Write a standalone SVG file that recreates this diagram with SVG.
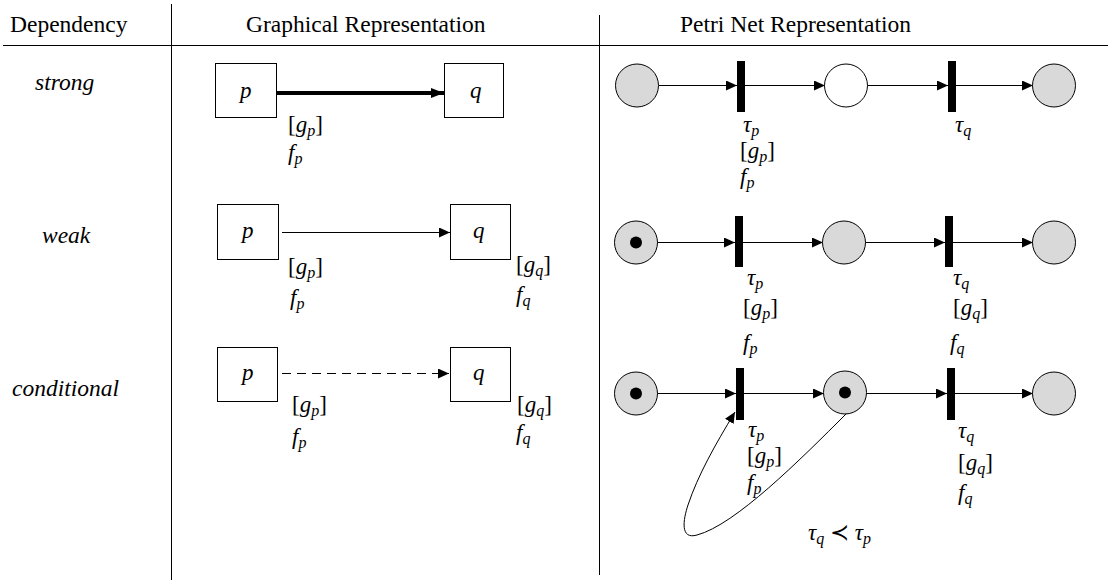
<svg xmlns="http://www.w3.org/2000/svg" width="1113" height="585" viewBox="0 0 1113 585" font-family="Liberation Serif, DejaVu Serif, serif">
<style>
text{font-family:'Liberation Serif','DejaVu Serif',serif;font-size:23px;fill:#000}
.hd{font-size:23.5px}
.it{font-style:italic}
.sub{font-size:16px;font-style:italic}
.box{fill:#fff;stroke:#000;stroke-width:1}
.pl{fill:#d9d9d9;stroke:#000;stroke-width:1}
.pw{fill:#fff;stroke:#000;stroke-width:1}
.tr{fill:#000}
.tok{fill:#000}
.arc{fill:none;stroke:#000;stroke-width:1;marker-end:url(#ah)}
.grid{stroke:#000;stroke-width:1}
</style>
<defs>
<marker id="ah" markerUnits="userSpaceOnUse" markerWidth="12" markerHeight="10" refX="11" refY="5" orient="auto"><path d="M0,0 L11,5 L0,10 Z" fill="#000"/></marker>
<marker id="ahb" markerUnits="userSpaceOnUse" markerWidth="14" markerHeight="12" refX="13" refY="6" orient="auto"><path d="M0,1 L13,6 L0,11 Z" fill="#000"/></marker>
</defs>
<g id="table">
<line class="grid" x1="3" y1="45.5" x2="1108" y2="45.5"/>
<line class="grid" x1="171.5" y1="4" x2="171.5" y2="580"/>
<line class="grid" x1="599.5" y1="15" x2="599.5" y2="575"/>
<text class="hd" x="10" y="32">Dependency</text>
<text class="hd" x="246" y="32">Graphical Representation</text>
<text class="hd" x="680" y="32">Petri Net Representation</text>
<text class="it hd" x="35" y="90">strong</text>
<text class="it hd" x="42" y="243">weak</text>
<text class="it hd" x="12" y="396">conditional</text>
</g>
<g id="connectors">
<line x1="276" y1="93" x2="444" y2="93" stroke="#000" stroke-width="4" marker-end="url(#ahb)"/>
<line class="arc" x1="282" y1="232.5" x2="450" y2="232.5"/>
<line class="arc" x1="282" y1="373.5" x2="449" y2="373.5" stroke-dasharray="9,6"/>
<line class="arc" x1="659" y1="85.5" x2="737" y2="85.5"/>
<line class="arc" x1="745" y1="85.5" x2="825" y2="85.5"/>
<line class="arc" x1="867" y1="85.5" x2="948" y2="85.5"/>
<line class="arc" x1="956" y1="85.5" x2="1033" y2="85.5"/>
<line class="arc" x1="657" y1="242.5" x2="735" y2="242.5"/>
<line class="arc" x1="743" y1="242.5" x2="823" y2="242.5"/>
<line class="arc" x1="865" y1="242.5" x2="945" y2="242.5"/>
<line class="arc" x1="953" y1="242.5" x2="1033" y2="242.5"/>
<line class="arc" x1="657" y1="393.5" x2="736" y2="393.5"/>
<line class="arc" x1="744" y1="393.5" x2="824" y2="393.5"/>
<line class="arc" x1="866" y1="393.5" x2="947" y2="393.5"/>
<line class="arc" x1="954" y1="393.5" x2="1033" y2="393.5"/>
<path class="arc" d="M847,413 C800,460 735,525 697,535 C680,540 683,520 688,505 C698,475 715,445 735,412"/>
</g>
<g id="strong-p"><rect class="box" x="215.5" y="63.5" width="61" height="54"/><text class="it" x="240" y="98">p</text></g>
<g id="strong-q"><rect class="box" x="444.5" y="63.5" width="59" height="54"/><text class="it" x="470" y="98">q</text></g>
<g id="strong-labels">
<text x="288" y="132">[<tspan class="it">g</tspan><tspan class="sub" dy="4">p</tspan><tspan dy="-4">]</tspan></text>
<text x="288" y="160"><tspan class="it">f</tspan><tspan class="sub" dy="4">p</tspan></text>
</g>
<g id="weak-p"><rect class="box" x="217.5" y="204.5" width="61" height="55"/><text class="it" x="242" y="238">p</text></g>
<g id="weak-q"><rect class="box" x="450.5" y="204.5" width="60" height="55"/><text class="it" x="473" y="238">q</text></g>
<g id="weak-labels">
<text x="288" y="274">[<tspan class="it">g</tspan><tspan class="sub" dy="4">p</tspan><tspan dy="-4">]</tspan></text>
<text x="290" y="305"><tspan class="it">f</tspan><tspan class="sub" dy="4">p</tspan></text>
<text x="516" y="272">[<tspan class="it">g</tspan><tspan class="sub" dy="4">q</tspan><tspan dy="-4">]</tspan></text>
<text x="516" y="302"><tspan class="it">f</tspan><tspan class="sub" dy="4">q</tspan></text>
</g>
<g id="cond-p"><rect class="box" x="217.5" y="347.5" width="60" height="54"/><text class="it" x="242" y="380">p</text></g>
<g id="cond-q"><rect class="box" x="450.5" y="347.5" width="60" height="54"/><text class="it" x="473" y="380">q</text></g>
<g id="cond-labels">
<text x="292" y="412">[<tspan class="it">g</tspan><tspan class="sub" dy="4">p</tspan><tspan dy="-4">]</tspan></text>
<text x="292" y="444"><tspan class="it">f</tspan><tspan class="sub" dy="4">p</tspan></text>
<text x="517" y="412">[<tspan class="it">g</tspan><tspan class="sub" dy="4">q</tspan><tspan dy="-4">]</tspan></text>
<text x="516" y="440"><tspan class="it">f</tspan><tspan class="sub" dy="4">q</tspan></text>
</g>
<g id="pn-strong">
<circle class="pl" cx="637" cy="85.5" r="21.5"/>
<rect class="tr" x="737" y="61" width="8" height="51"/>
<circle class="pw" cx="846" cy="85.5" r="21.5"/>
<rect class="tr" x="948" y="61" width="8" height="51"/>
<circle class="pl" cx="1054" cy="85.5" r="21.5"/>
<text x="743" y="132"><tspan class="it">τ</tspan><tspan class="sub" dy="4">p</tspan></text>
<text x="740" y="158">[<tspan class="it">g</tspan><tspan class="sub" dy="4">p</tspan><tspan dy="-4">]</tspan></text>
<text x="740" y="184"><tspan class="it">f</tspan><tspan class="sub" dy="4">p</tspan></text>
<text x="955" y="132"><tspan class="it">τ</tspan><tspan class="sub" dy="4">q</tspan></text>
</g>
<g id="pn-weak">
<circle class="pl" cx="636" cy="242.5" r="21.5"/>
<circle class="tok" cx="636" cy="242.5" r="6"/>
<rect class="tr" x="735" y="216" width="8" height="51"/>
<circle class="pl" cx="844" cy="242.5" r="21.5"/>
<rect class="tr" x="945" y="216" width="8" height="51"/>
<circle class="pl" cx="1054" cy="242.5" r="21.5"/>
<text x="747" y="285"><tspan class="it">τ</tspan><tspan class="sub" dy="4">p</tspan></text>
<text x="743" y="315">[<tspan class="it">g</tspan><tspan class="sub" dy="4">p</tspan><tspan dy="-4">]</tspan></text>
<text x="743" y="350"><tspan class="it">f</tspan><tspan class="sub" dy="4">p</tspan></text>
<text x="953" y="285"><tspan class="it">τ</tspan><tspan class="sub" dy="4">q</tspan></text>
<text x="953" y="315">[<tspan class="it">g</tspan><tspan class="sub" dy="4">q</tspan><tspan dy="-4">]</tspan></text>
<text x="950" y="350"><tspan class="it">f</tspan><tspan class="sub" dy="4">q</tspan></text>
</g>
<g id="pn-cond">
<circle class="pl" cx="636" cy="393.5" r="21.5"/>
<circle class="tok" cx="636" cy="393.5" r="6"/>
<rect class="tr" x="736" y="368" width="8" height="52"/>
<circle class="pl" cx="845" cy="392.5" r="21.5"/>
<circle class="tok" cx="845" cy="392.5" r="6"/>
<rect class="tr" x="947" y="368" width="8" height="52"/>
<circle class="pl" cx="1054" cy="393.5" r="21.5"/>
<text x="748" y="437"><tspan class="it">τ</tspan><tspan class="sub" dy="4">p</tspan></text>
<text x="747" y="463">[<tspan class="it">g</tspan><tspan class="sub" dy="4">p</tspan><tspan dy="-4">]</tspan></text>
<text x="747" y="490"><tspan class="it">f</tspan><tspan class="sub" dy="4">p</tspan></text>
<text x="958" y="438"><tspan class="it">τ</tspan><tspan class="sub" dy="4">q</tspan></text>
<text x="958" y="470">[<tspan class="it">g</tspan><tspan class="sub" dy="4">q</tspan><tspan dy="-4">]</tspan></text>
<text x="958" y="500"><tspan class="it">f</tspan><tspan class="sub" dy="4">q</tspan></text>
<text x="808" y="540"><tspan class="it">τ</tspan><tspan class="sub" dy="4">q</tspan><tspan dy="-4"> ≺ </tspan><tspan class="it">τ</tspan><tspan class="sub" dy="4">p</tspan></text>
</g>
</svg>
